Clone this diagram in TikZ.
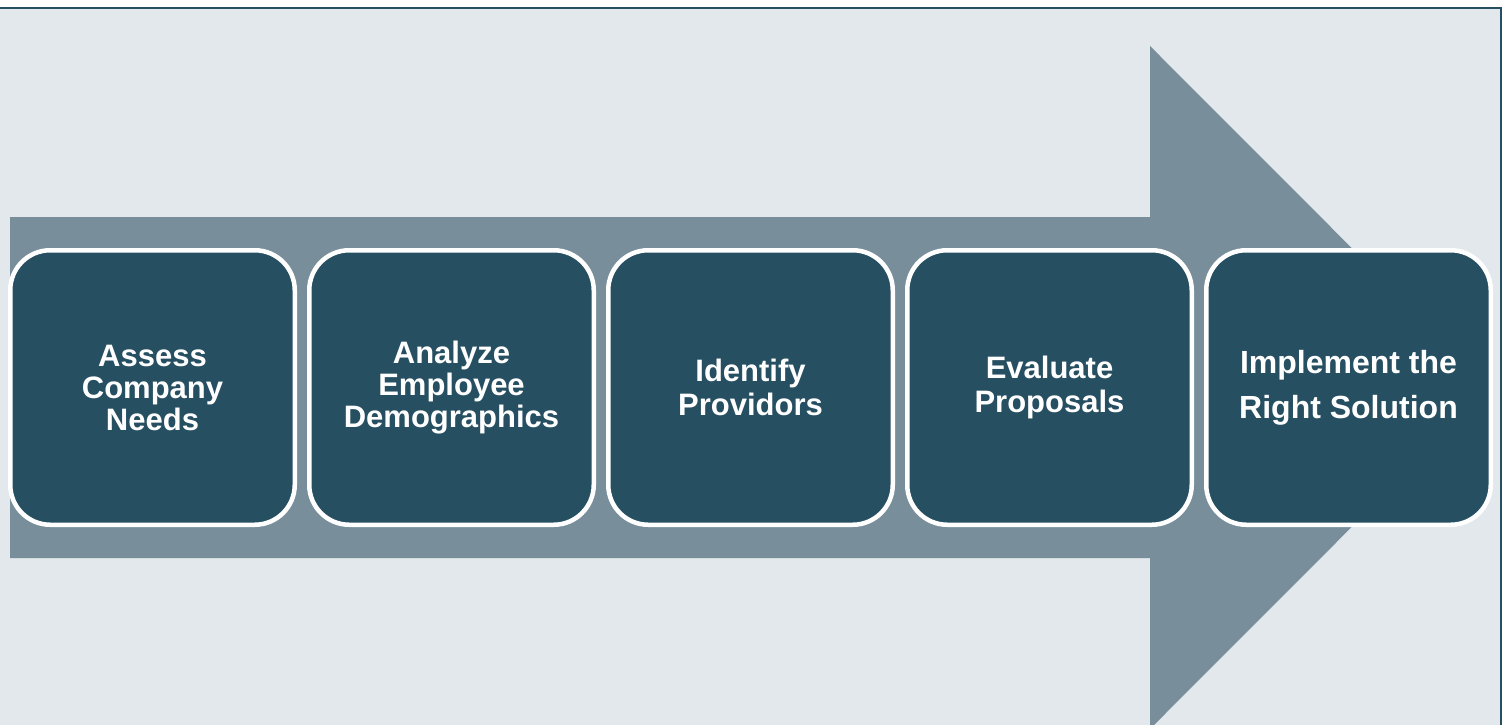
\documentclass[tikz,border=0pt]{standalone}
\usepackage{fontspec}
\setmainfont{Liberation Sans}
\definecolor{pagebg}{HTML}{E2E8EB}
\definecolor{arrowgray}{HTML}{788F9B}
\definecolor{boxteal}{HTML}{264F62}
\tikzset{node distance=299pt,
  stagebox/.style={draw=white,line width=4.5pt,fill=boxteal,rounded corners=40pt,
    minimum width=284.5pt,minimum height=274.5pt,inner sep=0pt,
    text=white,align=center,font=\fontsize{31}{32}\selectfont\bfseries}}

\begin{document}
\begin{tikzpicture}[x=1pt,y=-1pt]
        \clip (0,0) rectangle (1507,725);
        \fill [white] (0,0) rectangle (1507,725);
        \fill [pagebg] (0,9) rectangle (1501,725);
        \draw [boxteal,line width=2pt] (0,8) -- (1501,8) -- (1501,725);

        % the big arrow
        \fill [arrowgray] (10,217) -- (1150,217) -- (1150,46) -- (1491,387.5)
          -- (1150,729) -- (1150,558) -- (10,558) -- cycle;

        \node [stagebox] (assess) at (152.5,387.5) {Assess\\Company\\Needs};
        \node [stagebox] (analyze) [right of=assess] {Analyze\\Employee\\Demographics};
        \node [stagebox,font=\fontsize{31}{34.5}\selectfont\bfseries] (identify) [right of=analyze] {Identify\\Providors};
        \node [stagebox,font=\fontsize{31}{34.5}\selectfont\bfseries] (evaluate) [right of=identify] {Evaluate\\Proposals};
        \node [stagebox,font=\fontsize{32}{45}\selectfont\bfseries] (implement) [right of=evaluate] {Implement the\\Right Solution};
      \end{tikzpicture}
\end{document}
